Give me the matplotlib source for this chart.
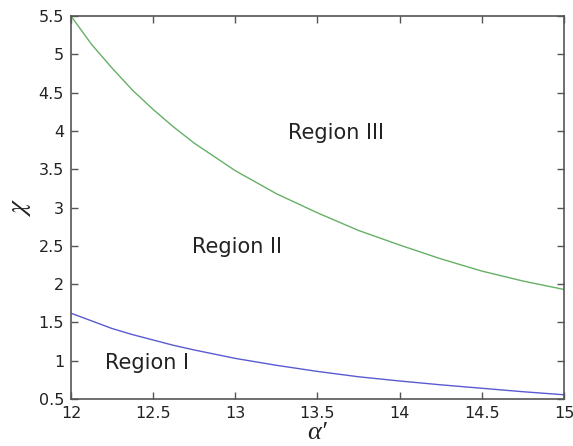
import matplotlib
matplotlib.use('Agg')
import matplotlib.pyplot as plt
from matplotlib.ticker import FuncFormatter

plt.rcParams['font.family'] = ['DejaVu Sans']
plt.rcParams['mathtext.fontset'] = 'stix'

# values
alpha = [12.0, 12.125, 12.25, 12.375, 12.5, 12.625, 12.75, 13.0, 13.25, 13.5,
         13.75, 14.0, 14.25, 14.5, 14.75, 15.0]
chi_upper = [5.50, 5.13, 4.82, 4.53, 4.28, 4.05, 3.84, 3.48, 3.18, 2.93,
             2.70, 2.51, 2.33, 2.17, 2.04, 1.93]
chi_lower = [1.62, 1.52, 1.42, 1.34, 1.27, 1.20, 1.14, 1.03, 0.94, 0.86,
             0.79, 0.735, 0.685, 0.64, 0.595, 0.555]

region_labels = ['Region I', 'Region II', 'Region III']
region_x = [12.46, 13.01, 13.61]
region_y = [0.97, 2.49, 3.97]

x_ticks = [12, 12.5, 13, 13.5, 14, 14.5, 15]
y_ticks = [0.5, 1, 1.5, 2, 2.5, 3, 3.5, 4, 4.5, 5, 5.5]

fig = plt.figure(figsize=(5.73, 4.46), dpi=100)
ax = fig.add_axes([0.1239, 0.1054, 0.8604, 0.8587])

ax.plot(alpha, chi_upper, color='#66b066', lw=1.0)
ax.plot(alpha, chi_lower, color='#5a5ad2', lw=1.0)

for lab, x, y in zip(region_labels, region_x, region_y):
    ax.text(x, y, lab, fontsize=15, ha='center', va='center', color='#222222')

ax.set_xlim(12, 15)
ax.set_ylim(0.5, 5.5)
ax.set_xticks(x_ticks)
ax.set_yticks(y_ticks)
fmt = FuncFormatter(lambda v, p: '%g' % v)
ax.xaxis.set_major_formatter(fmt)
ax.yaxis.set_major_formatter(fmt)
ax.tick_params(direction='in', top=True, right=True, length=5, width=1,
               labelsize=11.5, color='#555555', labelcolor='#222222')
ax.tick_params(axis='y', pad=5)
ax.tick_params(axis='x', pad=5)
for s in ax.spines.values():
    s.set_color('#555555')
    s.set_linewidth(1.2)

ax.set_xlabel('α′', fontsize=19, labelpad=0.5, color='#222222',
              family=['Liberation Serif', 'DejaVu Serif'], style='italic')
ax.set_ylabel(r'$\chi$', fontsize=20, labelpad=4, color='#222222')

fig.savefig('out.png', dpi=100)
